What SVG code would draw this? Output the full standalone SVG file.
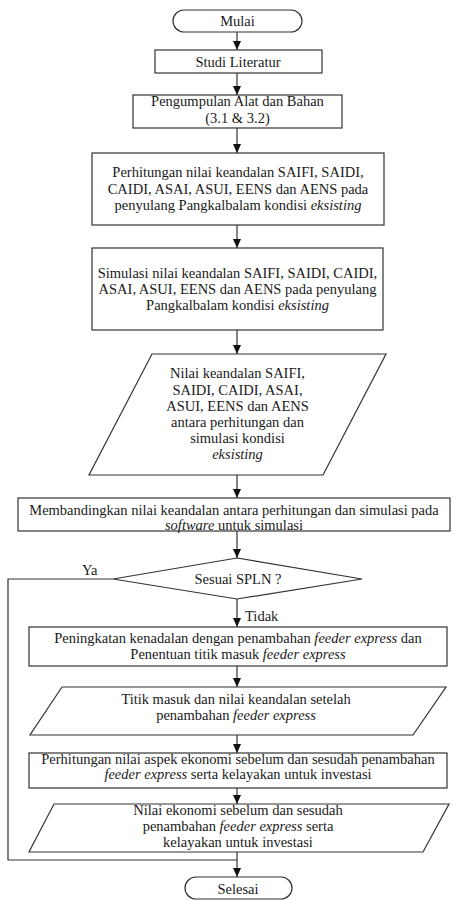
<svg xmlns="http://www.w3.org/2000/svg" width="454" height="900" viewBox="0 0 454 900">
<defs>
<style>
.s{fill:#fff;stroke:#333;stroke-width:1.2}
.t{font-family:"Liberation Serif","Times New Roman",serif;font-size:14.5px;fill:#1a1a1a;text-anchor:middle}
.i{font-style:italic}
.c{fill:none;stroke:#333;stroke-width:1.2}
</style>
<marker id="a" markerWidth="9" markerHeight="8" refX="9" refY="4" orient="auto" markerUnits="userSpaceOnUse" viewBox="0 0 9 8">
<path d="M0,0 L9,4 L0,8 Z" fill="#111"/>
</marker>
</defs>
<rect width="454" height="900" fill="#fff"/>
<g id="connectors">
<path class="c" d="M237,32 V50" marker-end="url(#a)"/>
<path class="c" d="M237,73 V95" marker-end="url(#a)"/>
<path class="c" d="M237,128 V153" marker-end="url(#a)"/>
<path class="c" d="M237,225 V248" marker-end="url(#a)"/>
<path class="c" d="M237,330 V354" marker-end="url(#a)"/>
<path class="c" d="M237,475 V498" marker-end="url(#a)"/>
<path class="c" d="M237,531 V558" marker-end="url(#a)"/>
<path class="c" d="M237,599 V627" marker-end="url(#a)"/>
<path class="c" d="M237,666 V687" marker-end="url(#a)"/>
<path class="c" d="M237,735 V753" marker-end="url(#a)"/>
<path class="c" d="M237,788 V804" marker-end="url(#a)"/>
<path class="c" d="M237,852 V877" marker-end="url(#a)"/>
<path class="c" d="M113,579 H8 V860 H237"/>
<text class="t" x="82" y="575" style="text-anchor:start">Ya</text>
<text class="t" x="245" y="621" style="text-anchor:start">Tidak</text>
</g>
<g id="mulai">
<rect class="s" x="173" y="10" width="129" height="22" rx="11"/>
<text class="t" x="237.5" y="26">Mulai</text>
</g>
<g id="studi">
<rect class="s" x="155" y="50" width="167" height="23"/>
<text class="t" x="238" y="67">Studi Literatur</text>
</g>
<g id="pengumpulan">
<rect class="s" x="133" y="95" width="209" height="33"/>
<text class="t" x="237.5" y="106">Pengumpulan Alat dan Bahan</text>
<text class="t" x="237.5" y="123">(3.1 &amp; 3.2)</text>
</g>
<g id="perhitungan">
<rect class="s" x="92" y="153" width="292" height="72"/>
<text class="t" x="238" y="177">Perhitungan nilai keandalan SAIFI, SAIDI,</text>
<text class="t" x="238" y="194">CAIDI, ASAI, ASUI, EENS dan AENS pada</text>
<text class="t" x="238" y="210">penyulang Pangkalbalam kondisi <tspan class="i">eksisting</tspan></text>
</g>
<g id="simulasi">
<rect class="s" x="92" y="248" width="291" height="82"/>
<text class="t" x="237.5" y="278">Simulasi nilai keandalan SAIFI, SAIDI, CAIDI,</text>
<text class="t" x="237.5" y="294">ASAI, ASUI, EENS dan AENS pada penyulang</text>
<text class="t" x="237.5" y="310">Pangkalbalam kondisi <tspan class="i">eksisting</tspan></text>
</g>
<g id="nilai1">
<polygon class="s" points="152,354 386,354 323,475 89,475"/>
<text class="t" x="237.5" y="378">Nilai keandalan SAIFI,</text>
<text class="t" x="237.5" y="395">SAIDI, CAIDI, ASAI,</text>
<text class="t" x="237.5" y="411">ASUI, EENS dan AENS</text>
<text class="t" x="237.5" y="427">antara perhitungan dan</text>
<text class="t" x="237.5" y="443">simulasi kondisi</text>
<text class="t i" x="237.5" y="459">eksisting</text>
</g>
<g id="membandingkan">
<rect class="s" x="18" y="498" width="432" height="33"/>
<text class="t" x="234" y="515">Membandingkan nilai keandalan antara perhitungan dan simulasi pada</text>
<text class="t" x="234" y="530"><tspan class="i">software</tspan> untuk simulasi</text>
</g>
<g id="sesuai">
<polygon class="s" points="237,558 362,579 237,599 113,579"/>
<text class="t" x="238" y="584">Sesuai SPLN ?</text>
</g>
<g id="peningkatan">
<rect class="s" x="29" y="627" width="418" height="39"/>
<text class="t" x="238" y="643">Peningkatan kenadalan dengan penambahan <tspan class="i">feeder express</tspan> dan</text>
<text class="t" x="238" y="659">Penentuan titik masuk <tspan class="i">feeder express</tspan></text>
</g>
<g id="titik">
<polygon class="s" points="62,687 446,687 413,735 30,735"/>
<text class="t" x="236" y="704">Titik masuk dan nilai keandalan setelah</text>
<text class="t" x="236" y="720">penambahan <tspan class="i">feeder express</tspan></text>
</g>
<g id="aspek">
<rect class="s" x="29" y="753" width="418" height="35"/>
<text class="t" x="238" y="764">Perhitungan nilai aspek ekonomi sebelum dan sesudah penambahan</text>
<text class="t" x="238" y="779"><tspan class="i">feeder express</tspan> serta kelayakan untuk investasi</text>
</g>
<g id="nilai2">
<polygon class="s" points="54,804 449,804 423,852 29,852"/>
<text class="t" x="238" y="815">Nilai ekonomi sebelum dan sesudah</text>
<text class="t" x="238" y="831">penambahan <tspan class="i">feeder express</tspan> serta</text>
<text class="t" x="238" y="847">kelayakan untuk investasi</text>
</g>
<g id="selesai">
<rect class="s" x="185" y="877" width="107" height="22" rx="11"/>
<text class="t" x="238" y="894">Selesai</text>
</g>
</svg>
